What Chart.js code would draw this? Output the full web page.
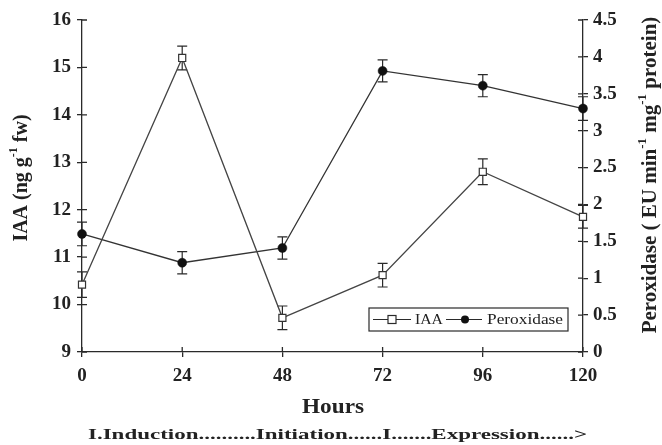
<!DOCTYPE html>
<html>
<head>
<meta charset="utf-8">
<script src="https://cdn.jsdelivr.net/npm/chart.js@4/dist/chart.umd.min.js"></script>
<style>
  body { margin: 0; background: #fff; }
  #wrap { width: 662px; height: 445px; position: relative; }
</style>
</head>
<body>
<div id="wrap"><canvas id="chart"></canvas></div>
<script>
// values
const hours = [0, 24, 48, 72, 96, 120];
const iaa = [10.42, 15.2, 9.72, 10.62, 12.8, 11.85];
const iaaErr = [0.27, 0.25, 0.25, 0.25, 0.27, 0.24];
const peroxidase = [1.6, 1.21, 1.41, 3.81, 3.61, 3.3];
const peroxidaseErr = [0.16, 0.15, 0.15, 0.15, 0.15, 0.16];
const phaseText = "I.Induction..........Initiation......I.......Expression......>";

const INK = "#2a2a2a";
const SERIF = "'Liberation Serif', 'Times New Roman', serif";

// draw text squeezed/stretched to a given width
function fitText(ctx, text, x, y, w) {
  const m = ctx.measureText(text).width;
  ctx.save();
  ctx.translate(x, y);
  ctx.scale(w / m, 1);
  ctx.fillText(text, 0, 0);
  ctx.restore();
}

// text with superscript parts, centred on (0,0)
function drawRich(ctx, parts, size) {
  const big = "bold " + size + "px " + SERIF;
  const small = "bold " + Math.round(size * 0.6) + "px " + SERIF;
  let total = 0;
  parts.forEach((p) => {
    ctx.font = p.sup ? small : big;
    total += ctx.measureText(p.t).width;
  });
  let x = -total / 2;
  parts.forEach((p) => {
    ctx.font = p.sup ? small : big;
    ctx.fillText(p.t, x, p.sup ? -size * 0.4 : 0);
    x += ctx.measureText(p.t).width;
  });
}

const errorBars = {
  id: "errorBars",
  beforeDatasetsDraw(chart) {
    const ctx = chart.ctx;
    const sets = [
      { vals: iaa, errs: iaaErr, scale: chart.scales.y },
      { vals: peroxidase, errs: peroxidaseErr, scale: chart.scales.y1 },
    ];
    ctx.save();
    ctx.strokeStyle = INK;
    ctx.lineWidth = 1.2;
    sets.forEach((s) => {
      hours.forEach((h, i) => {
        const px = chart.scales.x.getPixelForValue(h);
        const top = s.scale.getPixelForValue(s.vals[i] + s.errs[i]);
        const bot = s.scale.getPixelForValue(s.vals[i] - s.errs[i]);
        ctx.beginPath();
        ctx.moveTo(px, top); ctx.lineTo(px, bot);
        ctx.moveTo(px - 5, top); ctx.lineTo(px + 5, top);
        ctx.moveTo(px - 5, bot); ctx.lineTo(px + 5, bot);
        ctx.stroke();
      });
    });
    ctx.restore();
  },
};

const extras = {
  id: "extras",
  afterDraw(chart) {
    const ctx = chart.ctx;
    const { x, y, y1 } = chart.scales;
    const area = chart.chartArea;
    ctx.save();
    ctx.strokeStyle = INK;
    ctx.lineWidth = 1.3;

    // tick marks reaching inside the plot
    ctx.beginPath();
    x.ticks.forEach((t) => {
      const px = x.getPixelForValue(t.value);
      ctx.moveTo(px, area.bottom); ctx.lineTo(px, area.bottom - 5);
    });
    y.ticks.forEach((t) => {
      const py = y.getPixelForValue(t.value);
      ctx.moveTo(area.left, py); ctx.lineTo(area.left + 5, py);
    });
    y1.ticks.forEach((t) => {
      const py = y1.getPixelForValue(t.value);
      ctx.moveTo(area.right, py); ctx.lineTo(area.right - 5, py);
    });
    ctx.stroke();

    ctx.fillStyle = "#222";
    ctx.textBaseline = "middle";
    ctx.textAlign = "left";

    // axis titles
    ctx.save();
    ctx.translate(22, 178);
    ctx.rotate(-Math.PI / 2);
    drawRich(ctx, [{ t: "IAA (ng g" }, { t: "-1", sup: true }, { t: " fw)" }], 20);
    ctx.restore();

    ctx.save();
    ctx.translate(651, 175);
    ctx.rotate(-Math.PI / 2);
    drawRich(ctx, [
      { t: "Peroxidase ( EU min" }, { t: "-1", sup: true },
      { t: " mg" }, { t: "-1", sup: true }, { t: " protein)" },
    ], 21);
    ctx.restore();

    ctx.font = "bold 20px " + SERIF;
    fitText(ctx, "Hours", 302, 408, 62);

    ctx.font = "bold 15px " + SERIF;
    fitText(ctx, phaseText, 88, 435, 499);

    // legend box
    ctx.lineWidth = 1.2;
    ctx.strokeRect(369, 308, 199, 23);
    const ly = 319.5;
    ctx.beginPath();
    ctx.moveTo(373, ly); ctx.lineTo(411, ly);
    ctx.moveTo(446, ly); ctx.lineTo(482, ly);
    ctx.stroke();
    ctx.fillStyle = "#fff";
    ctx.fillRect(388, ly - 4, 8, 8);
    ctx.strokeRect(388, ly - 4, 8, 8);
    ctx.fillStyle = "#111";
    ctx.beginPath();
    ctx.arc(465, ly, 4, 0, Math.PI * 2);
    ctx.fill();
    ctx.fillStyle = "#222";
    ctx.font = "15px " + SERIF;
    fitText(ctx, "IAA", 415, ly + 1, 28);
    fitText(ctx, "Peroxidase", 487, ly + 1, 76);
    ctx.restore();
  },
};

const tickFont = { family: SERIF, size: 19, weight: "bold" };
const gridOpts = { drawOnChartArea: false, tickLength: 5, color: INK, lineWidth: 1.3 };
const borderOpts = { color: INK, width: 1.3 };

new Chart(document.getElementById("chart"), {
  type: "line",
  data: {
    datasets: [
      {
        label: "IAA",
        data: hours.map((h, i) => ({ x: h, y: iaa[i] })),
        yAxisID: "y",
        clip: false,
        borderColor: "#444",
        borderWidth: 1.3,
        pointStyle: "rect",
        pointRadius: 5,
        pointBackgroundColor: "#fff",
        pointBorderColor: "#333",
        pointBorderWidth: 1.2,
        tension: 0,
      },
      {
        label: "Peroxidase",
        data: hours.map((h, i) => ({ x: h, y: peroxidase[i] })),
        yAxisID: "y1",
        clip: false,
        borderColor: "#333",
        borderWidth: 1.3,
        pointStyle: "circle",
        pointRadius: 4.5,
        pointBorderWidth: 0.5,
        pointBackgroundColor: "#111",
        pointBorderColor: "#111",
        tension: 0,
      },
    ],
  },
  options: {
    responsive: true,
    maintainAspectRatio: false,
    animation: false,
    layout: { padding: { top: 20, left: 0, right: 0, bottom: 0 } },
    plugins: { legend: { display: false }, tooltip: { enabled: false } },
    scales: {
      x: {
        type: "linear",
        min: 0,
        max: 120,
        ticks: { stepSize: 24, font: tickFont, color: "#222", padding: 8, maxRotation: 0 },
        grid: gridOpts,
        border: borderOpts,
        afterFit: (s) => { s.height = 93; },
      },
      y: {
        position: "left",
        min: 9,
        max: 16,
        ticks: { stepSize: 1, font: tickFont, color: "#222", padding: 6 },
        grid: gridOpts,
        border: borderOpts,
        afterFit: (s) => { s.width = 82; },
      },
      y1: {
        position: "right",
        min: 0,
        max: 4.5,
        ticks: { stepSize: 0.5, font: tickFont, color: "#222", padding: 5, callback: (v) => String(v) },
        grid: gridOpts,
        border: borderOpts,
        afterFit: (s) => { s.width = 79; },
      },
    },
  },
  plugins: [errorBars, extras],
});
</script>
</body>
</html>
